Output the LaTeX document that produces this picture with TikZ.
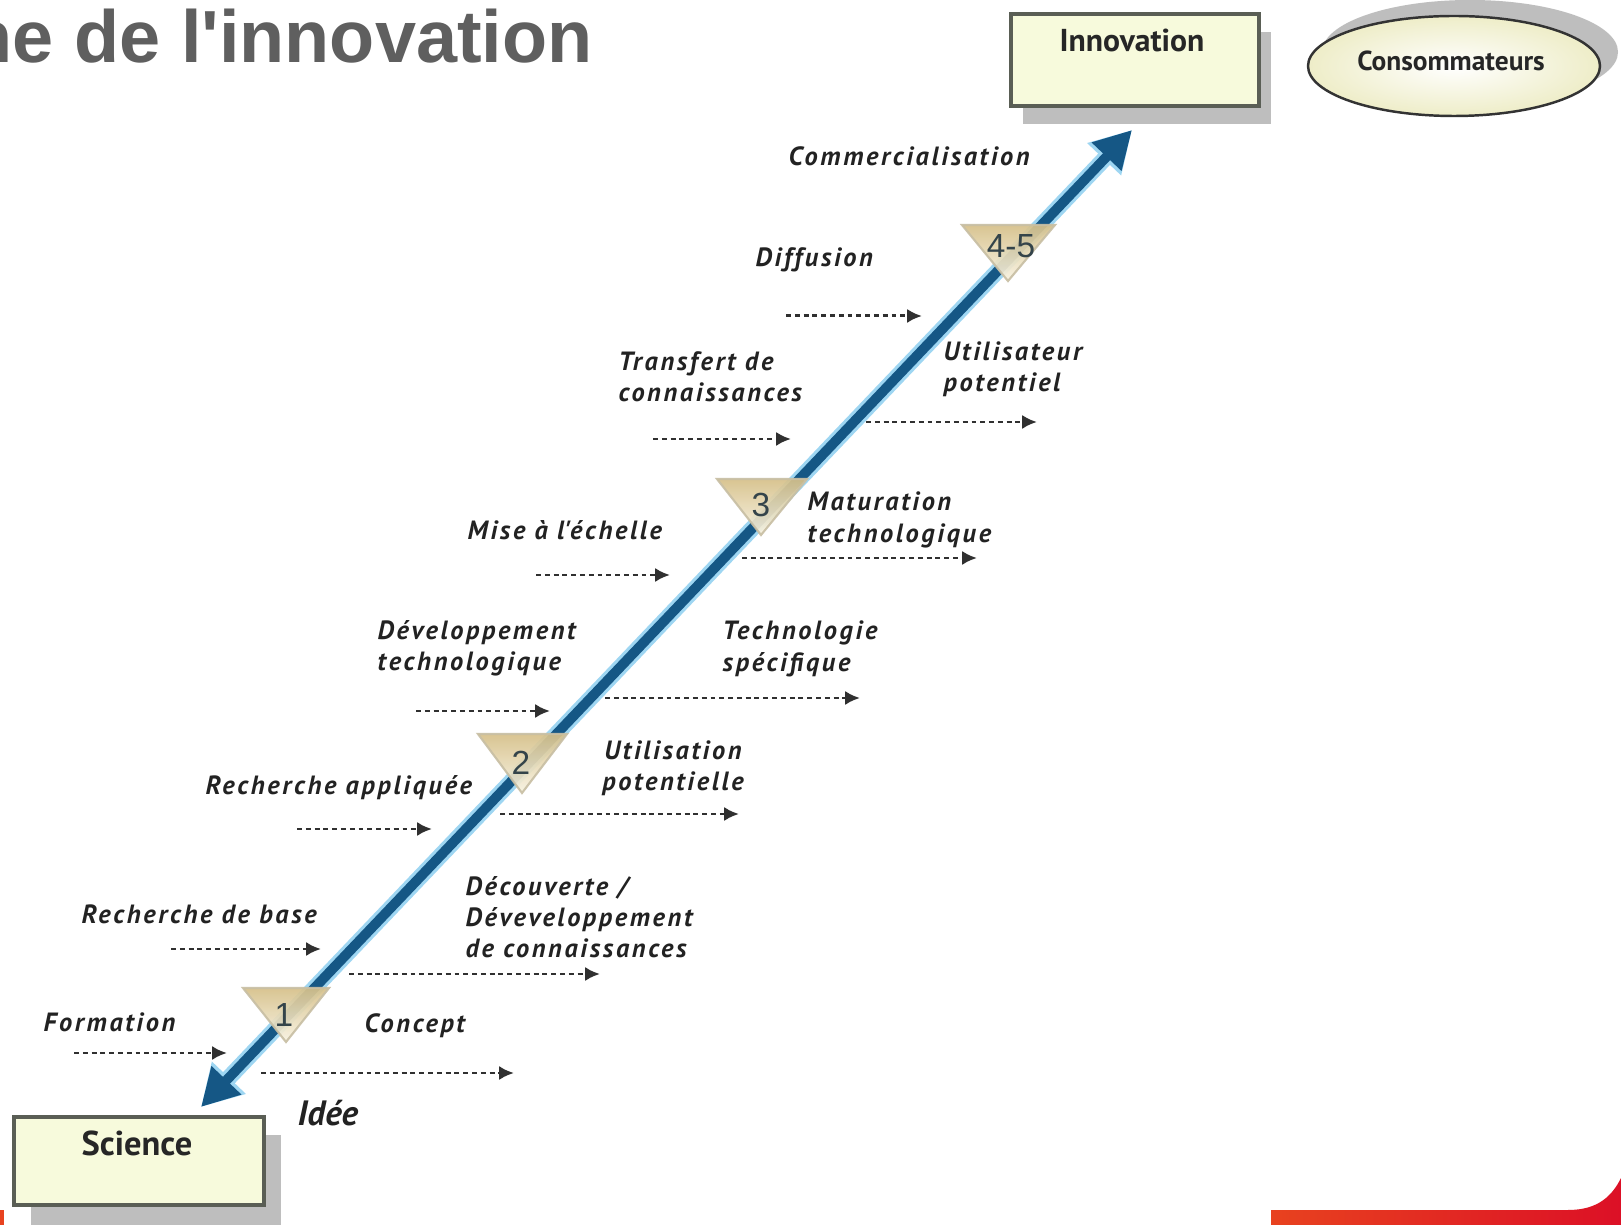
\documentclass[tikz,border=0pt]{standalone}
\usepackage{fontspec}
\setmainfont{Liberation Sans}
\newfontfamily\lblfont[LetterSpace=10]{PT Sans}
\newfontfamily\boxfont{PT Sans}
\usetikzlibrary{arrows.meta,shapes.geometric,calc}
\definecolor{titlegray}{HTML}{5F5F5F}
\definecolor{boxfill}{HTML}{F7FADC}
\definecolor{ellfill}{HTML}{EEEDC8}
\definecolor{boxline}{HTML}{5A5E55}
\definecolor{shadowgray}{HTML}{BEBEBE}
\definecolor{arrowblue}{HTML}{155785}
\definecolor{halo}{HTML}{9ED6F2}
\definecolor{tritop}{HTML}{D6C089}
\definecolor{tribot}{HTML}{F8F3E2}
\definecolor{triline}{HTML}{C8BFA4}
\definecolor{lbltext}{HTML}{222222}
\definecolor{numtext}{HTML}{34444A}
\definecolor{dashcol}{HTML}{303030}
\definecolor{redA}{HTML}{E8421F}
\definecolor{redB}{HTML}{DC1026}
\begin{document}
\begin{tikzpicture}[x=0.01cm,y=-0.01cm,
  titletext/.style={inner sep=0pt,text=titlegray,font=\fontsize{21}{25}\selectfont\bfseries},
  stagebox/.style={draw=boxline,line width=0.9pt,fill=boxfill},
  boxshadow/.style={fill=shadowgray,draw=none},
  boxlabel/.style={inner sep=0pt,text=black!85,font=\boxfont\fontsize{9}{10}\selectfont\bfseries},
  lbl/.style={inner sep=0pt,text=lbltext,align=left,font=\lblfont\fontsize{7.5}{8.9}\selectfont\bfseries\itshape},
  idee/.style={inner sep=0pt,text=lbltext,font=\boxfont\fontsize{10}{11}\selectfont\bfseries\itshape},
  tri/.style={top color=tritop,bottom color=tribot,draw=triline,line width=0.6pt,opacity=0.92},
  num/.style={inner sep=0pt,text=numtext,font=\fontsize{9.5}{10}\selectfont},
  dasharrow/.style={draw=dashcol,line width=0.85pt,dash pattern=on 1.4pt off 1.1pt,-{Latex[length=4.2pt,width=4pt]}},
  mainhalo/.style={draw=halo,line width=4.6pt,{Triangle[length=11.5pt,width=12.5pt]}-{Triangle[length=11.5pt,width=12.5pt]}},
  mainline/.style={draw=arrowblue,line width=2.8pt,{Triangle[length=10.5pt,width=11pt]}-{Triangle[length=10.5pt,width=11pt]}}
]
\useasboundingbox[fill=white] (0,0) rectangle (1621,1225);

% title
\node[titletext,anchor=base west] (title) at (-33,63) {ne de l\textquotesingle innovation};

% red bottom band
\shade[left color=redA,right color=redB] (1271,1225) -- (1271,1210) -- (1568,1210)
  .. controls (1598,1210) and (1612,1196) .. (1621,1178) -- (1621,1225) -- cycle;
\fill[redA] (0,1210) rectangle (4,1225);

% Innovation box
\fill[boxshadow] (1023,32) rectangle (1271,124);
\draw[stagebox] (1011,14) rectangle (1259,106);
\node[boxlabel] (innovation) at (1132,40) {Innovation};

% Consommateurs ellipse
\fill[shadowgray] (1470,52) ellipse [x radius=148, y radius=52];
\shade[inner color=white,outer color=ellfill,draw=black!80,line width=0.7pt]
  (1454,66) ellipse [x radius=146, y radius=50];
\node[boxlabel,font=\boxfont\fontsize{7.8}{9}\selectfont\bfseries] (consommateurs) at (1451,61) {Consommateurs};

% Science box
\fill[boxshadow] (31,1135) rectangle (281,1225);
\draw[stagebox] (14,1117) rectangle (264,1205);
\node[boxlabel,font=\boxfont\fontsize{9.8}{11}\selectfont\bfseries] (science) at (137,1143) {Science};

% main double arrow
\coordinate (sciTip) at (201,1107);
\coordinate (innTip) at (1132,130);
\draw[mainhalo] (sciTip) -- (innTip);
\draw[mainline] (sciTip) -- (innTip);

% stage triangles
\path[tri] (243,988) -- (329,988) -- (286,1042) -- cycle;
\path[tri] (478,734) -- (567,734) -- (522,793) -- cycle;
\path[tri] (717,479) -- (807,479) -- (761,535) -- cycle;
\path[tri] (962,225) -- (1055,225) -- (1008,281) -- cycle;
\node[num] (s1) at (284,1015) {1};
\node[num] (s2) at (521,763) {2};
\node[num] (s3) at (761,505) {3};
\node[num] (s45) at (1011,246) {4-5};

% left labels
\node[lbl,anchor=west] (formation) at (43,1022) {Formation};
\node[lbl,anchor=west] (rbase) at (81,914) {Recherche de base};
\node[lbl,anchor=west] (rappl) at (205,788) {Recherche appliquée};
\node[lbl,anchor=west] (devtech) at (377,648) {Développement\\technologique};
\node[lbl,anchor=west] (mise) at (467,530) {Mise à l\textquotesingle échelle};
\node[lbl,anchor=west] (transfert) at (618,377) {Transfert de\\connaissances};
\node[lbl,anchor=west] (diffusion) at (755,260) {Diffusion};
\node[lbl,anchor=west] (commerc) at (788,156) {Commercialisation};

% right labels
\node[lbl,anchor=west] (concept) at (364,1026) {Concept};
\node[idee,anchor=west] (idee) at (297,1113) {Idée};
\node[lbl,anchor=west] (decouv) at (465,917) {Découverte /\\Déveveloppement\\de connaissances};
\node[lbl,align=center] (utilpot) at (673,768) {Utilisation\\potentielle};
\node[lbl,anchor=west] (techspec) at (722,649) {Technologie\\spécifique};
\node[lbl,anchor=west] (matur) at (807,520) {Maturation\\technologique};
\node[lbl,anchor=west] (utilisateur) at (943,369) {Utilisateur\\potentiel};

% dashed arrows
\foreach \n/\y/\xa/\xb in {L1/1053/74/227, L2/949/171/321, L3/829/297/432, L4/711/416/550,
    L5/575/536/670, L6/439/653/791, L7/316/786/922, R1/1073/261/514, R2/974/349/600,
    R3/814/500/739, R4/698/605/860, R5/558/742/977, R6/422/866/1037}{
  \coordinate (\n s) at (\xa,\y);
  \coordinate (\n e) at (\xb,\y);
  \draw[dasharrow] (\n s) -- (\n e);
}
\end{tikzpicture}
\end{document}
